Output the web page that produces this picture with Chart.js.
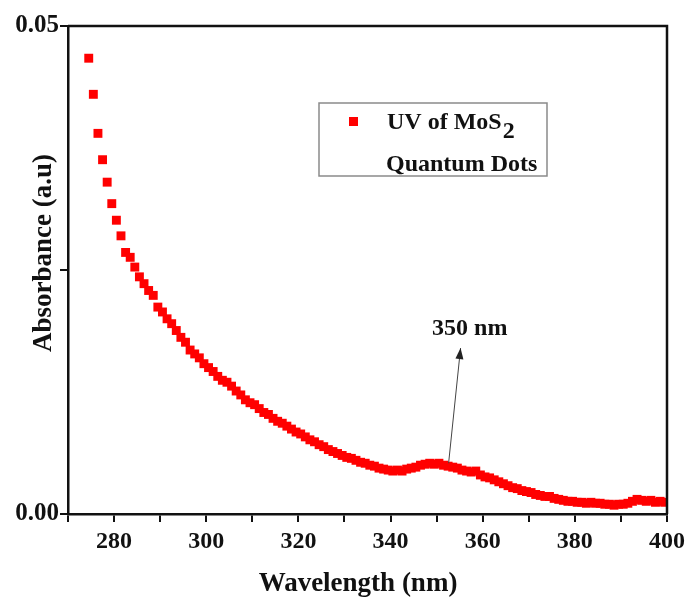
<!DOCTYPE html>
<html>
<head>
<meta charset="utf-8">
<script src="https://cdn.jsdelivr.net/npm/chart.js@4.4.1/dist/chart.umd.min.js"></script>
<style>
  html, body { margin: 0; padding: 0; background: #fff; }
  #wrap { width: 686px; height: 599px; }
</style>
</head>
<body>
<div id="wrap"><canvas id="c" width="686" height="599"></canvas></div>
<script>
// ---- data ----
const wavelengths = [
  274.5,275.5,276.5,277.5,278.5,279.5,280.5,281.5,282.5,283.5,
  284.5,285.5,286.5,287.5,288.5,289.5,290.5,291.5,292.5,293.5,
  294.5,295.5,296.5,297.5,298.5,299.5,300.5,301.5,302.5,303.5,
  304.5,305.5,306.5,307.5,308.5,309.5,310.5,311.5,312.5,313.5,
  314.5,315.5,316.5,317.5,318.5,319.5,320.5,321.5,322.5,323.5,
  324.5,325.5,326.5,327.5,328.5,329.5,330.5,331.5,332.5,333.5,
  334.5,335.5,336.5,337.5,338.5,339.5,340.5,341.5,342.5,343.5,
  344.5,345.5,346.5,347.5,348.5,349.5,350.5,351.5,352.5,353.5,
  354.5,355.5,356.5,357.5,358.5,359.5,360.5,361.5,362.5,363.5,
  364.5,365.5,366.5,367.5,368.5,369.5,370.5,371.5,372.5,373.5,
  374.5,375.5,376.5,377.5,378.5,379.5,380.5,381.5,382.5,383.5,
  384.5,385.5,386.5,387.5,388.5,389.5,390.5,391.5,392.5,393.5,
  394.5,395.5,396.5,397.5,398.5,399.5
];
const absorbance = [
  0.0467,0.0430,0.0390,0.0363,0.0340,0.0318,0.0301,0.0285,0.0268,0.0263,
  0.0253,0.0243,0.0236,0.0229,0.0224,0.0212,0.0207,0.0200,0.0195,0.0188,
  0.0181,0.0176,0.0168,0.0164,0.0160,0.0154,0.0150,0.0146,0.0141,0.0137,
  0.0135,0.0131,0.0126,0.0122,0.0117,0.0114,0.0112,0.0108,0.0104,0.0102,
  0.0098,0.0095,0.0093,0.0090,0.0087,0.0084,0.0082,0.0079,0.0076,0.0074,
  0.0071,0.0069,0.0066,0.0064,0.0062,0.0060,0.0058,0.0057,0.0055,0.0053,
  0.0052,0.0050,0.0049,0.0047,0.0046,0.0045,0.0044,0.0045,0.0044,0.0046,
  0.0047,0.0048,0.0050,0.0051,0.0052,0.0051,0.0052,0.0050,0.0049,0.0048,
  0.0047,0.0045,0.0044,0.0043,0.0044,0.0040,0.0038,0.0037,0.0035,0.0033,
  0.0031,0.0029,0.0027,0.0026,0.0024,0.0023,0.0022,0.0020,0.0019,0.0018,
  0.0018,0.0016,0.0015,0.0014,0.0013,0.0013,0.0012,0.0012,0.0011,0.0012,
  0.0011,0.0011,0.0010,0.0010,0.0009,0.0010,0.0010,0.0011,0.0013,0.0015,
  0.0014,0.0013,0.0014,0.0012,0.0013,0.0012
];
const xLabeledTicks = [280, 300, 320, 340, 360, 380, 400];
const yLabeledTicks = [0.00, 0.05];
const seriesName = ["UV of MoS", "2", "Quantum Dots"];
const axisTitles = { x: "Wavelength (nm)", y: "Absorbance (a.u)" };
const peakLabel = "350 nm";
const peakArrow = { fromX: 352.6, fromY: 0.0052, toX: 355.2, toY: 0.0170, textX: 357.2, textY: 0.0183 };

const FONT = "'Liberation Serif', 'Times New Roman', serif";

const points = wavelengths.map((w, i) => ({ x: w, y: absorbance[i] }));

const decorPlugin = {
  id: 'decor',
  afterDraw(chart) {
    const ctx = chart.ctx;
    const a = chart.chartArea;
    const xs = chart.scales.x, ys = chart.scales.y;
    ctx.save();
    // frame top/right
    ctx.strokeStyle = '#111';
    ctx.lineWidth = 2.5;
    ctx.beginPath();
    ctx.moveTo(a.left, a.top);
    ctx.lineTo(a.right, a.top);
    ctx.lineTo(a.right, a.bottom);
    ctx.stroke();

    // axis titles
    ctx.fillStyle = '#111';
    ctx.font = 'bold 27px ' + FONT;
    ctx.textAlign = 'center';
    ctx.textBaseline = 'alphabetic';
    ctx.fillText(axisTitles.x, 358, 591);
    ctx.save();
    ctx.translate(51, 253);
    ctx.rotate(-Math.PI / 2);
    ctx.fillText(axisTitles.y, 0, 0);
    ctx.restore();

    // legend box
    ctx.strokeStyle = '#8a8a8a';
    ctx.lineWidth = 1.5;
    ctx.strokeRect(319, 103, 228, 73);
    ctx.fillStyle = '#ff0000';
    ctx.fillRect(349, 117, 9, 9);
    ctx.fillStyle = '#111';
    ctx.textAlign = 'left';
    ctx.font = 'bold 24px ' + FONT;
    ctx.fillText(seriesName[0], 387, 129);
    const w0 = ctx.measureText(seriesName[0]).width;
    ctx.fillText(seriesName[1], 387 + w0 + 1, 138);
    ctx.fillText(seriesName[2], 386, 171);

    // peak annotation
    const x0 = xs.getPixelForValue(peakArrow.fromX), y0 = ys.getPixelForValue(peakArrow.fromY);
    const x1 = xs.getPixelForValue(peakArrow.toX), y1 = ys.getPixelForValue(peakArrow.toY);
    ctx.strokeStyle = '#444';
    ctx.lineWidth = 1;
    ctx.beginPath();
    ctx.moveTo(x0, y0);
    ctx.lineTo(x1, y1);
    ctx.stroke();
    const ang = Math.atan2(y1 - y0, x1 - x0);
    const hl = 11, hw = 4;
    ctx.fillStyle = '#222';
    ctx.beginPath();
    ctx.moveTo(x1, y1);
    ctx.lineTo(x1 - hl * Math.cos(ang) + hw * Math.sin(ang), y1 - hl * Math.sin(ang) - hw * Math.cos(ang));
    ctx.lineTo(x1 - hl * Math.cos(ang) - hw * Math.sin(ang), y1 - hl * Math.sin(ang) + hw * Math.cos(ang));
    ctx.closePath();
    ctx.fill();
    ctx.fillStyle = '#111';
    ctx.textAlign = 'center';
    ctx.font = 'bold 24px ' + FONT;
    ctx.fillText(peakLabel, xs.getPixelForValue(peakArrow.textX), ys.getPixelForValue(peakArrow.textY));
    ctx.restore();
  }
};

new Chart(document.getElementById('c'), {
  type: 'scatter',
  data: {
    datasets: [{
      label: seriesName.join(''),
      data: points,
      pointStyle: 'rect',
      pointRadius: 6.3,
      pointHoverRadius: 6.3,
      pointBackgroundColor: '#ff0000',
      pointBorderWidth: 0,
      borderWidth: 0
    }]
  },
  options: {
    responsive: false,
    animation: false,
    events: [],
    layout: { padding: { top: 26, right: 19, left: 0, bottom: 0 } },
    plugins: { legend: { display: false }, tooltip: { enabled: false } },
    scales: {
      x: {
        type: 'linear',
        min: 270, max: 400,
        afterFit(s) { s.height = 85; s.paddingRight = 19; s.paddingLeft = 0; },
        border: { display: true, color: '#111', width: 2.5 },
        grid: { drawOnChartArea: false, drawTicks: true, tickLength: 8, color: '#111', lineWidth: 2 },
        ticks: {
          stepSize: 10,
          padding: 5,
          color: '#111',
          font: { family: FONT, size: 24, weight: 'bold' },
          maxRotation: 0,
          autoSkip: false,
          callback: v => xLabeledTicks.includes(v) ? String(v) : ''
        }
      },
      y: {
        type: 'linear',
        min: 0, max: 0.05,
        afterFit(s) { s.width = 68; s.paddingTop = 0; s.paddingBottom = 0; },
        border: { display: true, color: '#111', width: 2.5 },
        grid: { drawOnChartArea: false, drawTicks: true, tickLength: 8, color: '#111', lineWidth: 2 },
        ticks: {
          stepSize: 0.025,
          padding: 1,
          color: '#111',
          font: { family: FONT, size: 25, weight: 'bold' },
          autoSkip: false,
          callback: v => yLabeledTicks.some(t => Math.abs(t - v) < 1e-9) ? v.toFixed(2) : ''
        }
      }
    }
  },
  plugins: [decorPlugin]
});
</script>
</body>
</html>
